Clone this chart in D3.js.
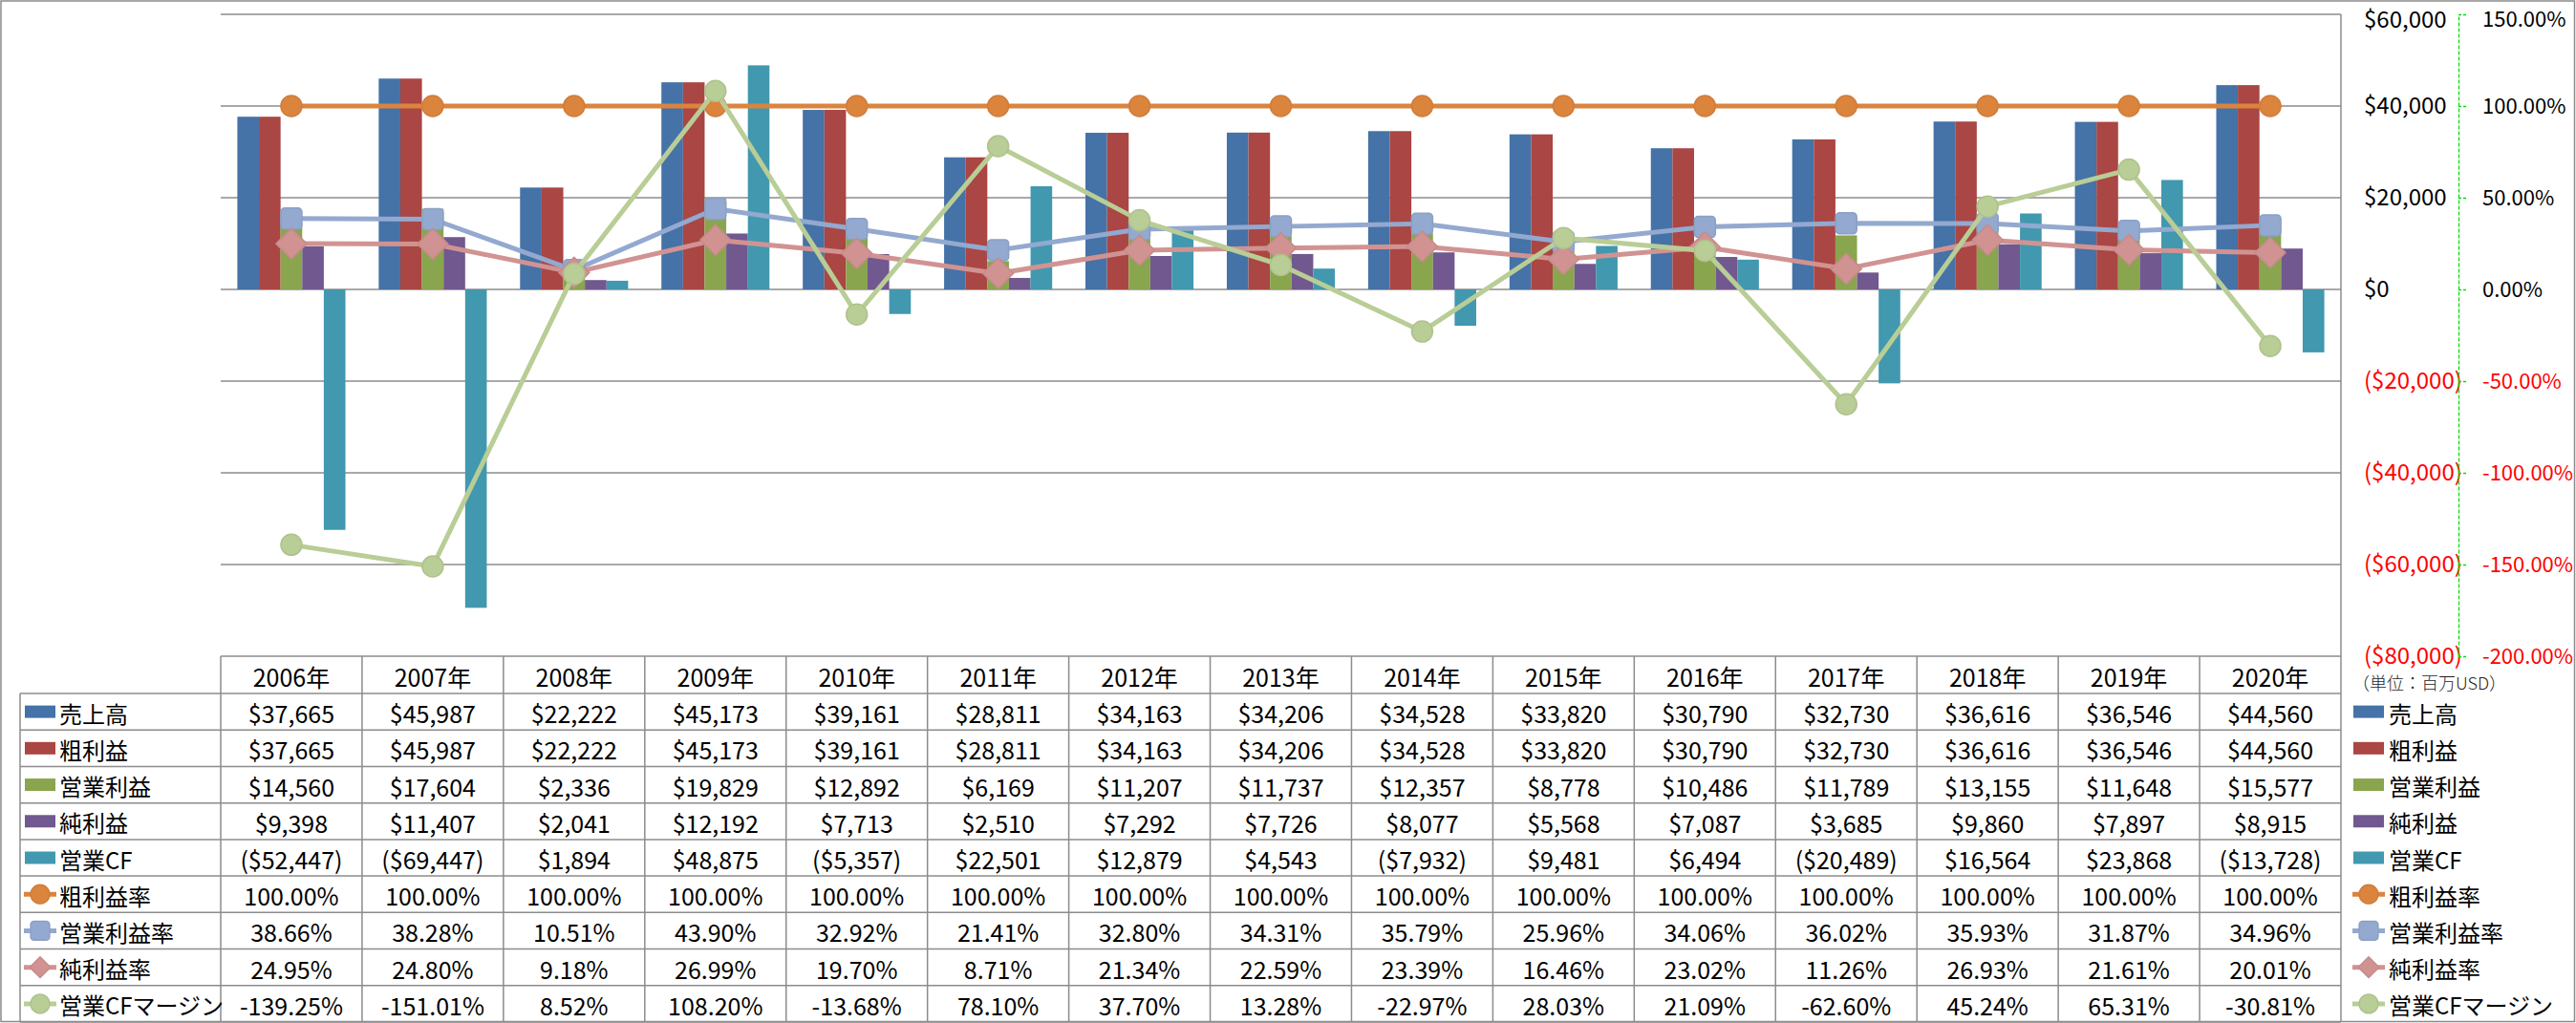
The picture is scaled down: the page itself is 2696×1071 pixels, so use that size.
<!DOCTYPE html>
<html><head><meta charset="utf-8">
<script src="https://cdn.jsdelivr.net/npm/d3@7"></script>
<style>
html,body{margin:0;padding:0;background:#fff;}
svg text{font-family:"Noto Sans CJK JP","Noto Sans",sans-serif;}
</style></head>
<body><svg id="c" width="2696" height="1071"></svg>
<script>
// ---- data ----
const years = ["2006年","2007年","2008年","2009年","2010年","2011年","2012年","2013年","2014年","2015年","2016年","2017年","2018年","2019年","2020年"];
const sales   = [37665,45987,22222,45173,39161,28811,34163,34206,34528,33820,30790,32730,36616,36546,44560];
const gross   = [37665,45987,22222,45173,39161,28811,34163,34206,34528,33820,30790,32730,36616,36546,44560];
const opInc   = [14560,17604,2336,19829,12892,6169,11207,11737,12357,8778,10486,11789,13155,11648,15577];
const netInc  = [9398,11407,2041,12192,7713,2510,7292,7726,8077,5568,7087,3685,9860,7897,8915];
const opCF    = [-52447,-69447,1894,48875,-5357,22501,12879,4543,-7932,9481,6494,-20489,16564,23868,-13728];
const grossMargin = [100,100,100,100,100,100,100,100,100,100,100,100,100,100,100];
const opMargin  = [38.66,38.28,10.51,43.90,32.92,21.41,32.80,34.31,35.79,25.96,34.06,36.02,35.93,31.87,34.96];
const netMargin = [24.95,24.80,9.18,26.99,19.70,8.71,21.34,22.59,23.39,16.46,23.02,11.26,26.93,21.61,20.01];
const cfMargin  = [-139.25,-151.01,8.52,108.20,-13.68,78.10,37.70,13.28,-22.97,28.03,21.09,-62.60,45.24,65.31,-30.81];
const barNames  = ["売上高","粗利益","営業利益","純利益","営業CF"];
const lineNames = ["粗利益率","営業利益率","純利益率","営業CFマージン"];
const leftTicks  = [-80000,-60000,-40000,-20000,0,20000,40000,60000];
const rightTicks = [-200,-150,-100,-50,0,50,100,150];
const unitLabel = "（単位：百万USD）";

// ---- styles ----
const barColors  = ["#4572A7","#AA4643","#89A54E","#71588F","#4198AF"];
const lineColors = ["#DB843D","#93A9CF","#D19392","#B9CD96"];
const markers    = ["circle","square","diamond","circle"];
const barData  = [sales,gross,opInc,netInc,opCF];
const lineData = [grossMargin,opMargin,netMargin,cfMargin];

const svg = d3.select("#c");
const W = 2696, H = 1071;
const plotL = 231, plotR = 2450, plotT = 15, plotB = 687;
const gridCol = "#8C8C8C";

const x = d3.scaleBand().domain(years).range([plotL, plotR]).padding(0);
const bw = x.bandwidth();
const xs = d3.scaleBand().domain(barNames).range([0, bw]).paddingOuter(0.77).paddingInner(0);
const yL = d3.scaleLinear().domain([-80000, 60000]).range([plotB, plotT]);
const yR = d3.scaleLinear().domain([-200, 150]).range([plotB, plotT]);

const fmtD = v => v < 0 ? "($" + d3.format(",")(-v) + ")" : "$" + d3.format(",")(v);
const fmtP = v => (v < 0 ? "-" : "") + Math.abs(v).toFixed(2) + "%";

// outer border
svg.append("rect").attr("x",1).attr("y",1).attr("width",W-2.5).attr("height",H-2.5)
  .attr("fill","none").attr("stroke","#8a8a8a").attr("stroke-width",1.5);

// gridlines
svg.append("g").selectAll("line").data(leftTicks).join("line")
  .attr("x1",plotL).attr("x2",plotR).attr("y1",d=>yL(d)).attr("y2",d=>yL(d))
  .attr("stroke",gridCol).attr("stroke-width",1.5);
// right border of plot area
svg.append("line").attr("x1",plotR).attr("x2",plotR).attr("y1",plotT).attr("y2",plotB)
  .attr("stroke",gridCol).attr("stroke-width",1.5);

// bars
const gb = svg.append("g");
barData.forEach((arr, si) => {
  gb.append("g").selectAll("rect").data(arr).join("rect")
    .attr("x",(d,i)=>x(years[i]) + xs(barNames[si]))
    .attr("width", xs.bandwidth())
    .attr("y", d => yL(Math.max(0,d)))
    .attr("height", d => Math.abs(yL(d) - yL(0)))
    .attr("fill", barColors[si]);
});

// marker drawing
function drawMarker(g, type, cx, cy, color, s) {
  if (type === "circle") {
    g.append("circle").attr("cx",cx).attr("cy",cy).attr("r",11*s)
      .attr("fill",color).attr("stroke",d3.color(color).darker(0.15)).attr("stroke-width",1.5);
  } else if (type === "square") {
    const h = 11*s;
    g.append("rect").attr("x",cx-h).attr("y",cy-h).attr("width",2*h).attr("height",2*h)
      .attr("rx",4*s).attr("fill",color).attr("stroke",d3.color(color).darker(0.15)).attr("stroke-width",1.5);
  } else {
    const h = 16*s;
    g.append("path").attr("d",`M${cx},${cy-h}L${cx+h},${cy}L${cx},${cy+h}L${cx-h},${cy}Z`)
      .attr("stroke-linejoin","round")
      .attr("fill",color).attr("stroke",d3.color(color).darker(0.15)).attr("stroke-width",1.5);
  }
}

// lines
const gl = svg.append("g");
lineData.forEach((arr, si) => {
  const line = d3.line().x((d,i)=>x(years[i]) + bw/2).y(d=>yR(d));
  gl.append("path").datum(arr).attr("d", line).attr("fill","none")
    .attr("stroke", lineColors[si]).attr("stroke-width",5).attr("stroke-linejoin","round");
  const gm = gl.append("g");
  arr.forEach((d,i) => drawMarker(gm, markers[si], x(years[i]) + bw/2, yR(d), lineColors[si], 1));
});

// left-value axis ($), labels to the right of the plot
const axD = d3.axisRight(yL).tickValues(leftTicks).tickSize(0).tickPadding(24).tickFormat(fmtD);
const gaD = svg.append("g").attr("transform",`translate(${plotR},0)`).call(axD);
gaD.select(".domain").remove();
gaD.selectAll("text").attr("font-size",24).attr("fill",d=>d<0?"#FF0000":"#000")
  .attr("dy", d => d === 60000 ? "0.55em" : "0.32em")
  .style("font-family",'"Noto Sans CJK JP",sans-serif');

// percent axis
const axP = d3.axisRight(yR).tickValues(rightTicks).tickSize(9).tickSizeOuter(0).tickPadding(16).tickFormat(fmtP);
const gaP = svg.append("g").attr("transform",`translate(2573,0)`).call(axP);
gaP.select(".domain").attr("stroke","#00E000").attr("stroke-width",1.3).attr("stroke-dasharray","4,2");
gaP.selectAll(".tick line").attr("stroke","#00E000").attr("stroke-width",1.3).attr("stroke-dasharray","3,2");
gaP.selectAll("text").attr("font-size",22).attr("fill",d=>d<0?"#FF0000":"#000")
  .attr("dy", d => d === 150 ? "0.58em" : "0.32em")
  .style("font-family",'"Noto Sans CJK JP",sans-serif');

// unit label
svg.append("text").attr("x",2462).attr("y",714).attr("dominant-baseline","central")
  .attr("font-size",18).attr("fill","#222").attr("font-weight",300).text(unitLabel);

// ---- data table ----
const tblTop = 687, hdrB = 726, tblB = 1070, tblLeft = 21;
const rowH = (tblB - hdrB) / 9;
const gt = svg.append("g");
// horizontal lines
d3.range(10).forEach(r => {
  const yy = hdrB + r*rowH;
  gt.append("line").attr("x1",tblLeft).attr("x2",plotR).attr("y1",yy).attr("y2",yy)
    .attr("stroke",gridCol).attr("stroke-width",1.5);
});
// vertical lines
gt.append("line").attr("x1",tblLeft).attr("x2",tblLeft).attr("y1",hdrB).attr("y2",tblB)
  .attr("stroke",gridCol).attr("stroke-width",1.5);
years.concat(["end"]).forEach((yv,i) => {
  const xx = plotL + i*bw;
  gt.append("line").attr("x1",xx).attr("x2",xx).attr("y1",tblTop).attr("y2",tblB)
    .attr("stroke",gridCol).attr("stroke-width",1.5);
});
// header
gt.selectAll("text.hdr").data(years).join("text").attr("class","hdr")
  .attr("x",d=>x(d)+bw/2).attr("y",(tblTop+hdrB)/2+1).attr("text-anchor","middle")
  .attr("dominant-baseline","central").attr("font-size",25).attr("fill","#000").text(d=>d);
// values
const allRows = barData.map(a=>a.map(fmtD)).concat(lineData.map(a=>a.map(fmtP)));
allRows.forEach((row, r) => {
  const cy = hdrB + (r+0.5)*rowH + 1;
  gt.append("g").selectAll("text").data(row).join("text")
    .attr("x",(d,i)=>x(years[i])+bw/2).attr("y",cy).attr("text-anchor","middle")
    .attr("dominant-baseline","central").attr("font-size",25).attr("fill","#000").text(d=>d);
});

// legend keys (in table and at right)
const allNames = barNames.concat(lineNames);
function legendKey(g, idx, kx, cy) {
  if (idx < 5) {
    g.append("rect").attr("x",kx).attr("y",cy-6.5).attr("width",32).attr("height",13).attr("fill",barColors[idx]);
  } else {
    const li = idx - 5;
    g.append("line").attr("x1",kx-1).attr("x2",kx+33).attr("y1",cy).attr("y2",cy)
      .attr("stroke",lineColors[li]).attr("stroke-width",5);
    drawMarker(g, markers[li], kx+16, cy, lineColors[li], li===2 ? 0.68 : 0.9);
  }
}
allNames.forEach((nm, idx) => {
  const cy = hdrB + (idx+0.5)*rowH;
  legendKey(gt, idx, 26, cy);
  gt.append("text").attr("x",62).attr("y",cy+1).attr("dominant-baseline","central")
    .attr("font-size",24).attr("fill","#000").text(nm);
  legendKey(gt, idx, 2463, cy);
  gt.append("text").attr("x",2500).attr("y",cy+1).attr("dominant-baseline","central")
    .attr("font-size",24).attr("fill","#000").text(nm);
});
</script></body></html>
